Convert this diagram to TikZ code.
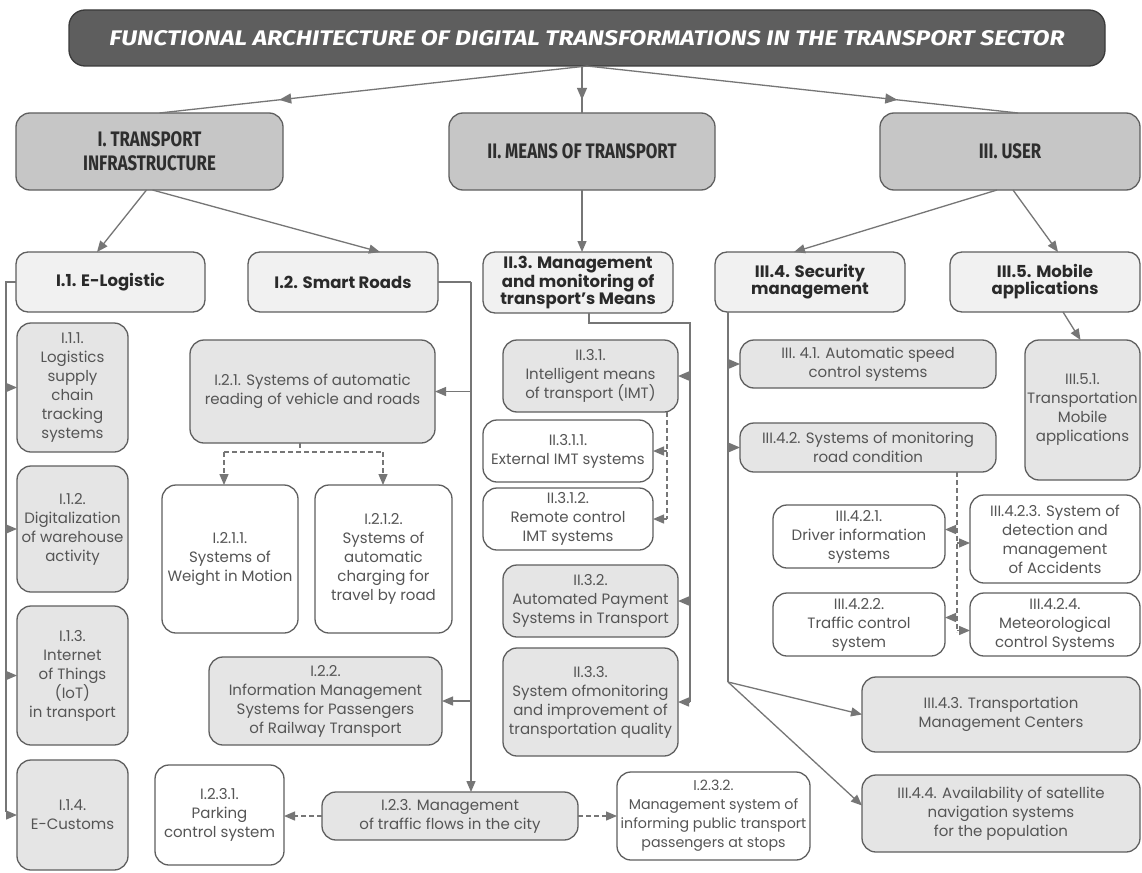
\documentclass[tikz,border=0pt]{standalone}
\usepackage{fontspec}
\usepackage{graphicx}
\setmainfont{Poppins}
\newfontfamily\condf[FakeStretch=0.8]{Fira Sans}
\usetikzlibrary{arrows.meta,decorations.markings}
\definecolor{ttl}{HTML}{5E5E5E}
\definecolor{ttlb}{HTML}{3A3A3A}
\definecolor{bord}{HTML}{5F5F5F}
\definecolor{la}{HTML}{C6C6C6}
\definecolor{lb}{HTML}{F1F1F1}
\definecolor{lg}{HTML}{E5E5E5}
\definecolor{cn}{HTML}{767676}
\definecolor{txa}{HTML}{2E2E2E}
\definecolor{txb}{HTML}{2A2A2A}
\definecolor{txl}{HTML}{555555}
\tikzset{
 bx/.style={draw=bord, line width=1.3pt, rounded corners=14pt, inner sep=0pt, outer sep=0pt, align=center},
 lvlz/.style={bx, fill=ttl, draw=ttlb, rounded corners=16pt, text=white},
 lvla/.style={bx, fill=la, rounded corners=14pt, font=\condf\bfseries\fontsize{21}{24}\selectfont, text=txa},
 lvlb/.style={bx, fill=lb, rounded corners=12pt, font=\bfseries\fontsize{16.5}{17}\selectfont, text=txb},
 leafg/.style={bx, fill=lg, font=\fontsize{15}{19}\selectfont, text=txl},
 leafw/.style={leafg, fill=white},
 smallw/.style={leafw, font=\fontsize{14.2}{19}\selectfont},
 plain/.style={draw=cn, color=cn, line width=1.3pt},
 conn/.style={plain, -{Triangle[length=11pt,width=9pt]}},
 dplain/.style={plain, dash pattern=on 5pt off 3pt},
 dconn/.style={conn, dash pattern=on 5pt off 3pt},
 midarrow/.style={plain, postaction={decorate}, decoration={markings, mark=at position 0.72 with {\arrow{Triangle[length=12pt,width=10pt]}}}},
}
\newcommand\mybox[7]{\node[#2, minimum width={(#4-#3)*1pt}, minimum height={(#6-#5)*1pt}] (#1) at ({(#3+#4)/2},{(#5+#6)/2}) {#7};}
\begin{document}
\begin{tikzpicture}[x=1pt,y=-1pt]
\useasboundingbox (0,0) rectangle (1142,872);
\fill[white] (0,0) rectangle (1142,872);
% title
\mybox{T}{lvlz}{69}{1105}{10}{66}{\resizebox{955pt}{15pt}{\condf\bfseries\itshape FUNCTIONAL ARCHITECTURE OF DIGITAL TRANSFORMATIONS IN THE TRANSPORT SECTOR}}
% level 1
\mybox{LI}{lvla}{16}{283}{113}{190}{I. TRANSPORT\\INFRASTRUCTURE}
\mybox{LII}{lvla}{449}{715}{113}{190}{II. MEANS OF TRANSPORT}
\mybox{LIII}{lvla}{880}{1140}{113}{190}{III. USER}
% level 2
\mybox{I1}{lvlb}{16}{205}{252}{312}{I.1. E-Logistic}
\mybox{I2}{lvlb}{248}{438}{252}{312}{I.2. Smart Roads}
\mybox{II3}{lvlb}{483}{673}{252}{313}{II.3. Management\\and monitoring of\\transport’s Means}
\mybox{III4}{lvlb}{715}{905}{252}{312}{III.4. Security\\management}
\mybox{III5}{lvlb}{950}{1140}{252}{312}{III.5. Mobile\\applications}
% I.1 leaves
\mybox{I11}{leafg}{17}{128}{323}{452}{I.1.1.\\Logistics\\supply\\chain\\tracking\\systems}
\mybox{I12}{leafg}{17}{128}{466}{592}{I.1.2.\\Digitalization\\of warehouse\\activity}
\mybox{I13}{leafg}{17}{128}{606}{745}{I.1.3.\\Internet\\of Things\\(IoT)\\in transport}
\mybox{I14}{leafg}{17}{128}{760}{870}{I.1.4.\\E-Customs}
% I.2 leaves
\mybox{I21}{leafg}{190}{435}{340}{443}{I.2.1. Systems of automatic\\reading of vehicle and roads}
\mybox{I211}{leafw}{162}{298}{485}{633}{I.2.1.1.\\Systems of\\Weight in Motion}
\mybox{I212}{leafw}{315}{452}{485}{633}{I.2.1.2.\\Systems of\\automatic\\charging for\\travel by road}
\mybox{I22}{leafg}{209}{442}{657}{745}{I.2.2.\\Information Management\\Systems for Passengers\\of Railway Transport}
\mybox{I23}{leafg}{322}{578}{792}{840}{I.2.3. Management\\of traffic flows in the city}
\mybox{I231}{leafw}{155}{284}{765}{865}{I.2.3.1.\\Parking\\control system}
\mybox{I232}{smallw}{617}{810}{772}{860}{I.2.3.2.\\Management system of\\informing public transport\\passengers at stops}
% II.3 leaves
\mybox{II31}{leafg}{503}{678}{340}{412}{II.3.1.\\Intelligent means\\of transport (IMT)}
\mybox{II311}{leafw}{483}{653}{420}{482}{II.3.1.1.\\External IMT systems}
\mybox{II312}{leafw}{483}{653}{488}{550}{II.3.1.2.\\Remote control\\IMT systems}
\mybox{II32}{leafg}{503}{678}{565}{637}{II.3.2.\\Automated Payment\\Systems in Transport}
\mybox{II33}{leafg}{503}{678}{648}{756}{II.3.3.\\System ofmonitoring\\and improvement of\\transportation quality}
% III leaves
\mybox{III41}{leafg}{740}{996}{340}{388}{III. 4.1. Automatic speed\\control systems}
\mybox{III42}{leafg}{740}{996}{423}{472}{III.4.2. Systems of monitoring\\road condition}
\mybox{III51}{leafg}{1025}{1140}{340}{480}{III.5.1.\\Transportation\\Mobile\\applications}
\mybox{III421}{leafw}{773}{945}{505}{568}{III.4.2.1.\\Driver information\\systems}
\mybox{III422}{leafw}{773}{945}{593}{656}{III.4.2.2.\\Traffic control\\system}
\mybox{III423}{leafw}{970}{1140}{495}{583}{III.4.2.3. System of\\detection and\\management\\of Accidents}
\mybox{III424}{leafw}{970}{1140}{593}{656}{III.4.2.4.\\Meteorological\\control Systems}
\mybox{III43}{leafg}{862}{1140}{677}{752}{III.4.3. Transportation\\Management Centers}
\mybox{III44}{leafg}{862}{1140}{775}{852}{III.4.4. Availability of satellite\\navigation systems\\for the population}
% ---- connectors: top level
\draw[midarrow] (T.south) -- ([xshift=10pt]LI.north);
\draw[midarrow] (T.south -| LII.north) -- (LII.north);
\draw[midarrow] (T.south) -- ([xshift=8pt]LIII.north);
% level 1 -> level 2
\draw[conn] ([xshift=-3pt]LI.south) -- ([xshift=-13.5pt]I1.north);
\draw[conn] ([xshift=3pt]LI.south) -- ([xshift=37pt]I2.north);
\draw[conn] (LII.south) -- (LII.south |- II3.north);
\draw[conn] ([xshift=-13pt]LIII.south) -- ([xshift=-16pt]III4.north);
\draw[conn] ([xshift=3pt]LIII.south) -- ([xshift=13pt]III5.north);
% I.1 trunk
\coordinate (t1) at (6,282);
\coordinate (t1e) at (6,812);
\draw[plain] (I1.west) -- (t1) -- (t1e);
\draw[conn] (t1 |- I11.west) -- (I11.west);
\draw[conn] (t1 |- I12.west) -- (I12.west);
\draw[conn] (t1 |- I13.west) -- (I13.west);
\draw[conn] (t1 |- I14.west) -- (I14.west);
% I.2 trunk
\coordinate (t2) at (471,282);
\draw[plain] (I2.east) -- (t2);
\draw[conn] (t2) -- (t2 |- I23.north);
\draw[conn] (t2 |- I21.east) -- (I21.east);
\draw[conn] (t2 |- I22.east) -- (I22.east);
% I.2.1 dashed
\coordinate (d3) at (300,452);
\coordinate (d3l) at (224,452);
\coordinate (d3r) at (383,452);
\draw[dplain] (d3 |- I21.south) -- (d3);
\draw[dplain] (d3l) -- (d3r);
\draw[dconn] (d3l) -- (d3l |- I211.north);
\draw[dconn] (d3r) -- (d3r |- I212.north);
% I.2.3 dashed
\draw[dconn] (I23.west) -- (I231.east |- I23.west);
\draw[dconn] (I23.east) -- (I232.west |- I23.east);
% II.3 trunk
\coordinate (t3a) at (589,323);
\coordinate (t3b) at (690,323);
\draw[plain] (t3a |- II3.south) -- (t3a) -- (t3b) -- (t3b |- II33.east);
\draw[conn] (t3b |- II31.east) -- (II31.east);
\draw[conn] (t3b |- II32.east) -- (II32.east);
\draw[conn] (t3b |- II33.east) -- (II33.east);
% II.3.1 dashed
\coordinate (d1) at (667,518);
\draw[dplain] (d1 |- II31.south) -- (d1 |- II312.east);
\draw[dconn] (d1 |- II311.east) -- (II311.east);
\draw[dconn] (d1 |- II312.east) -- (II312.east);
% III.4 trunk
\coordinate (t4) at (728,682);
\draw[plain] (t4 |- III4.south) -- (t4);
\draw[conn] (t4 |- III41.west) -- (III41.west);
\draw[conn] (t4 |- III42.west) -- (III42.west);
\draw[conn] (t4) -- (III43.west);
\draw[conn] (t4) -- ([yshift=8pt]III44.west);
% III.5 -> III.5.1
\draw[conn] ([xshift=18pt]III5.south) -- ([xshift=-2pt]III51.north);
% III.4.2 dashed
\coordinate (d2) at (957,632);
\coordinate (a1) at ([yshift=7pt]III421.east);
\coordinate (a2) at ([yshift=-4pt]III423.west);
\coordinate (a3) at ([yshift=7pt]III422.east);
\coordinate (a4) at ([yshift=-6pt]III424.west);
\draw[dplain] (d2 |- III42.south) -- (d2);
\draw[dconn] (a1 -| d2) -- (a1);
\draw[dconn] (a2 -| d2) -- (a2);
\draw[dconn] (a3 -| d2) -- (a3);
\draw[dconn] (a4 -| d2) -- (a4);
\end{tikzpicture}
\end{document}
